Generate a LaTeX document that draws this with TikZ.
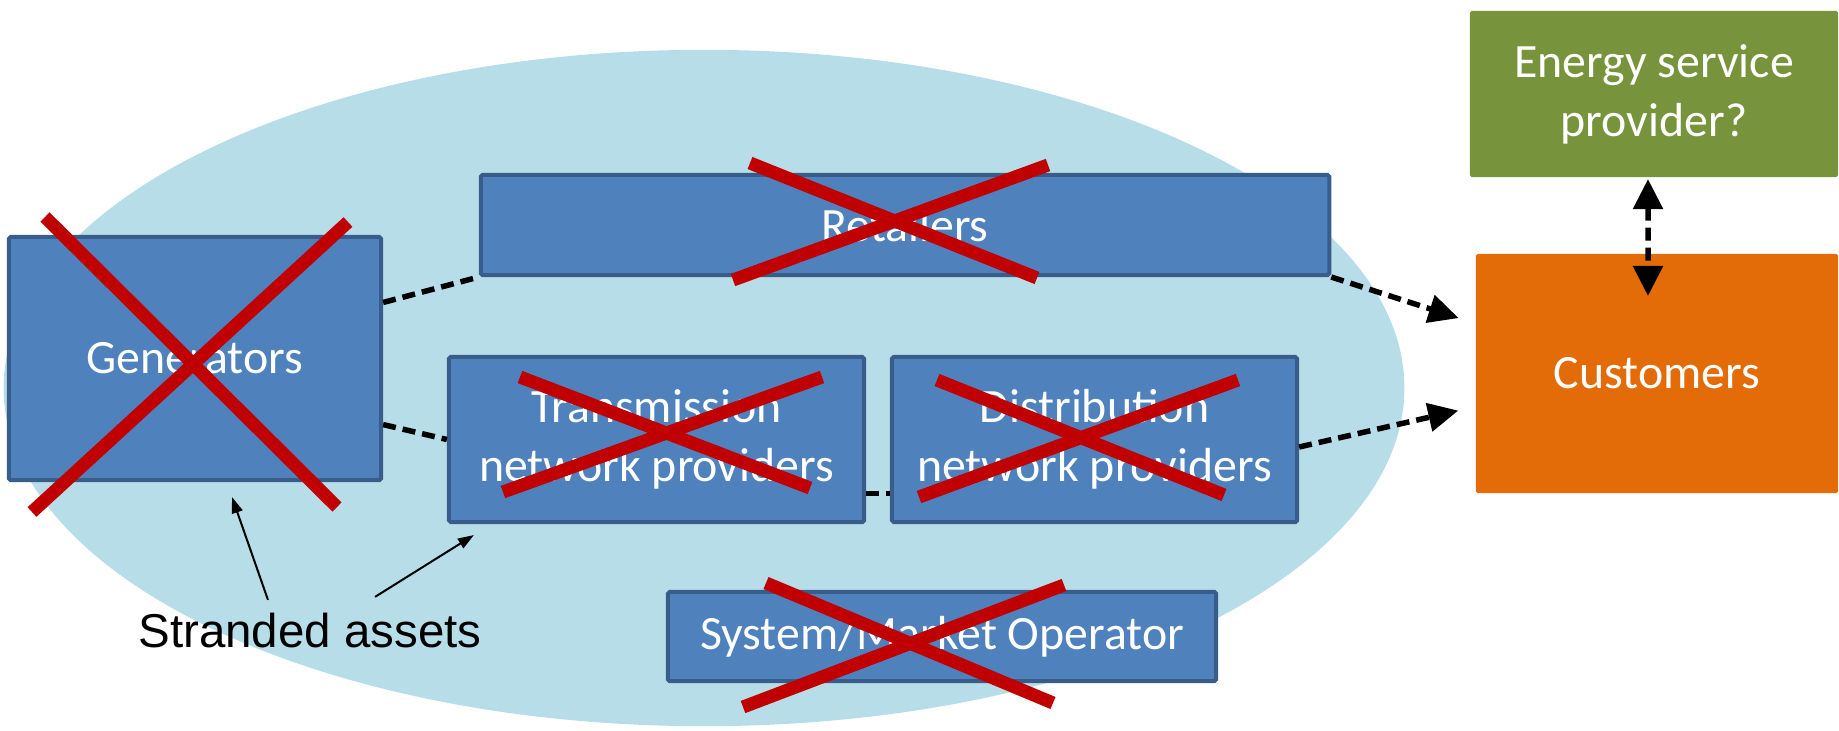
\documentclass[tikz,border=0pt]{standalone}
\usepackage{fontspec}
\setmainfont{Carlito}
\newfontfamily\arialfont{Liberation Sans}
\usetikzlibrary{arrows.meta}
\usetikzlibrary{shapes}
\definecolor{boxblue}{HTML}{4F81BD}
\definecolor{boxedge}{HTML}{385D8A}
\definecolor{ovalblue}{HTML}{B7DDE8}
\definecolor{crossred}{HTML}{C00000}
\definecolor{espgreen}{HTML}{77933C}
\definecolor{custorange}{HTML}{E36C09}
\tikzset{box/.style={draw=boxedge, fill=boxblue, line width=0.04cm, rounded corners=0.5pt,
   text=white, align=center, inner sep=0pt, font=\fontsize{13.6}{16.8}\selectfont},
 flatbox/.style={box, draw=none},
 cross/.style={draw=crossred, line width=0.13cm},
 link/.style={draw, line width=0.055cm, dash pattern=on 0.13cm off 0.07cm},
 linkarrow/.style={link, -{Triangle[length=0.3cm, width=0.28cm]}, shorten >=1.6mm},
 pointer/.style={draw, line width=0.02cm, -{Triangle[length=0.16cm, width=0.11cm]}},
 }

\begin{document}
\begin{tikzpicture}[x=0.01cm, y=-0.01cm]
        \useasboundingbox (0,0) rectangle (1839,730);
        \fill[ovalblue] (704,388) ellipse [x radius=7cm, y radius=3.38cm];
        % boxes
        \node[box, minimum width=3.72cm, minimum height=2.43cm] (gen) at (195,358.5) {Generators};
        \node[box, minimum width=8.48cm, minimum height=1.00cm] (retail) at (905,225) {Retailers};
        \node[box, minimum width=4.15cm, minimum height=1.65cm] (trans) at (656.5,439.5) {Transmission\\network providers};
        \node[box, minimum width=4.05cm, minimum height=1.65cm] (dist) at (1094.5,439.5) {Distribution\\network providers};
        \node[box, minimum width=5.48cm, minimum height=0.89cm] (smo) at (942,636.5) {System/Market Operator};
        \node[flatbox, fill=espgreen, minimum width=3.68cm, minimum height=1.66cm] (esp) at (1654,94) {Energy service\\provider?};
        \node[flatbox, fill=custorange, minimum width=3.62cm, minimum height=2.39cm] (cust) at (1657,373.5) {Customers};
        \node[anchor=base, inner sep=0pt, font=\arialfont\fontsize{13.5}{16}\selectfont] (stranded) at (310,647) {Stranded assets};
        % links
        \draw[link] ([yshift=5.6mm]gen.east) -- (retail.south west);
        \draw[link] ([yshift=-6.6mm]gen.east) -- (trans.west);
        \draw[link] ([yshift=-5.4mm]trans.east) -- ([yshift=-5.4mm]dist.west);
        \draw[linkarrow] (retail.south east) -- ([yshift=5.05mm]cust.west);
        \draw[linkarrow] ([yshift=-0.75mm]dist.east) -- ([yshift=-3.35mm]cust.west);
        \draw[link, {Triangle[length=0.3cm, width=0.29cm]}-{Triangle[length=0.3cm, width=0.29cm]}]
            ([xshift=-0.6mm]esp.south) -- ([xshift=-0.9mm, yshift=-4.4mm]cust.north);
        \draw[pointer] ([xshift=-4.2mm, yshift=1.2mm]stranded.north) -- ([xshift=3.7mm, yshift=-1.5mm]gen.south);
        \draw[pointer] ([xshift=6.5mm, yshift=1.5mm]stranded.north) -- ([xshift=2.7mm, yshift=-1.1mm]trans.south west);
        % crosses
        \draw[cross] (45,217) -- (337,507);
        \draw[cross] (348,222) -- (32,512);
        \draw[cross] (750,163) -- (1037,278);
        \draw[cross] (1048,165) -- (733,280);
        \draw[cross] (520,377) -- (810,488);
        \draw[cross] (822,377) -- (503,492);
        \draw[cross] (937,380) -- (1224,495);
        \draw[cross] (1238,380) -- (919,497);
        \draw[cross] (766,583) -- (1053,703);
        \draw[cross] (1064,585) -- (743,707);
    \end{tikzpicture}
\end{document}
